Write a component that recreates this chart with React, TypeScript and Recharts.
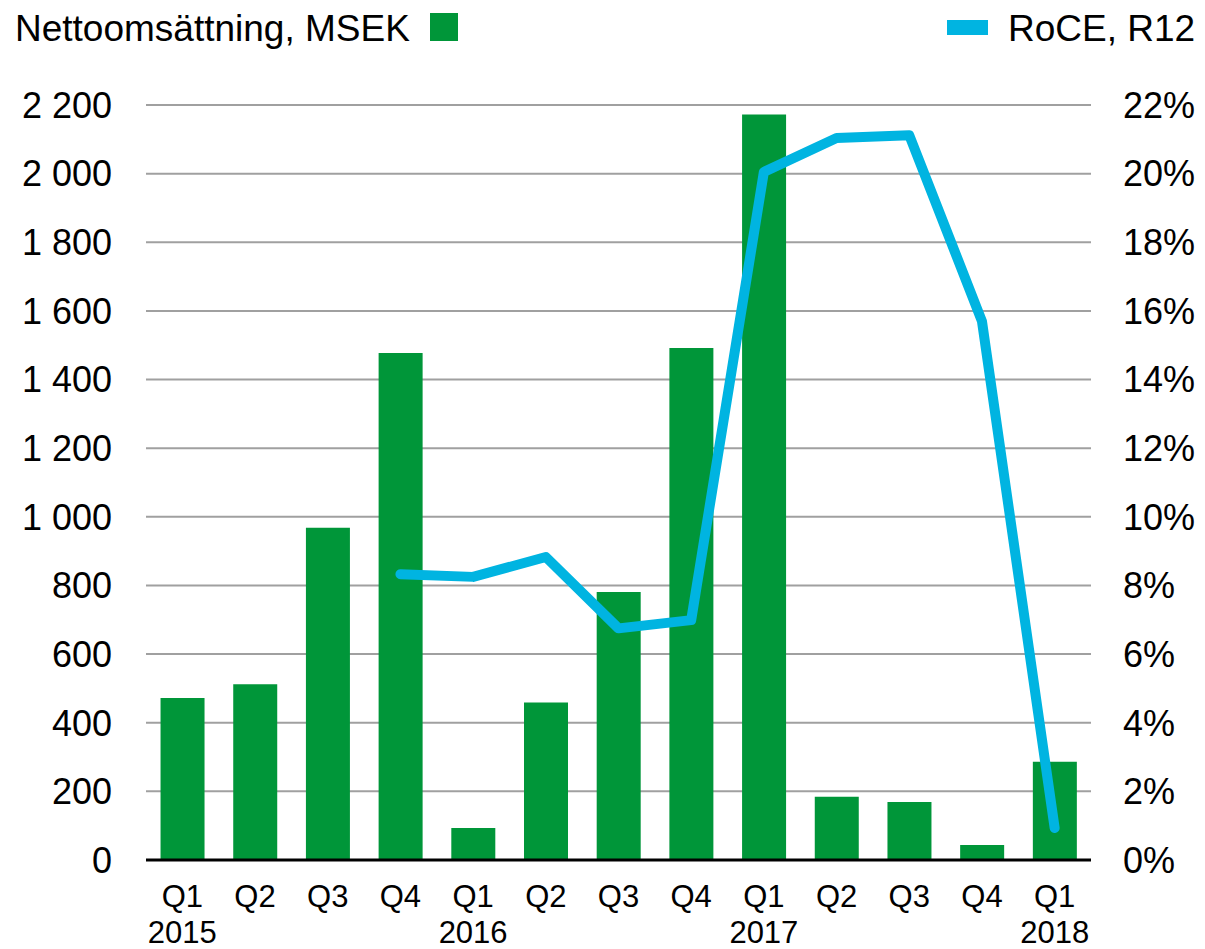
import React from 'react';
import { Bar, CartesianGrid, ComposedChart, Line, XAxis, YAxis } from 'recharts';

const quarters = ['Q1', 'Q2', 'Q3', 'Q4', 'Q1', 'Q2', 'Q3', 'Q4', 'Q1', 'Q2', 'Q3', 'Q4', 'Q1'];
const years = ['2015', '', '', '', '2016', '', '', '', '2017', '', '', '', '2018'];
const sales = [472, 512, 968, 1477, 93, 459, 781, 1492, 2172, 184, 169, 44, 286];
const roce = [null, null, null, 8.33, 8.25, 8.83, 6.75, 6.99, 20.05, 21.04, 21.12, 15.7, 0.93];
const leftTicks = [0, 200, 400, 600, 800, 1000, 1200, 1400, 1600, 1800, 2000, 2200];
const rightTicks = [0, 2, 4, 6, 8, 10, 12, 14, 16, 18, 20, 22];

const GREEN = '#009639';
const CYAN = '#00B4E1';
const FONT = '"Liberation Sans", Arial, sans-serif';

const data = quarters.map((q, i) => ({ id: i, quarter: q, year: years[i], sales: sales[i], roce: roce[i] }));

const formatMsek = (v: number) =>
   v >= 1000 ? `${Math.floor(v / 1000)} ${String(v % 1000).padStart(3, '0')}` : String(v);

const QuarterTick = (props: any) => {
   const { x, y, payload } = props;
   const row = data[payload.value];
   return (
      <text x={x} y={y} textAnchor="middle" fontFamily={FONT} fontSize={31} fill="#000">
         <tspan x={x} y={y + 45}>{row.quarter}</tspan>
         {row.year && <tspan x={x} y={y + 81}>{row.year}</tspan>}
      </text>
   );
};

const App: React.FC = () => {
   return (
      <div style={{ position: 'relative', width: 1189, height: 941 }}>
         <ComposedChart width={1189} height={941} data={data} margin={{ top: 97, right: 0, left: 0, bottom: 0 }} barCategoryGap="20%">
            <CartesianGrid yAxisId="left" vertical={false} stroke="#A0A0A0" strokeWidth={2} />
            <XAxis
               dataKey="id"
               height={89}
               tick={<QuarterTick />}
               tickLine={false}
               tickSize={0}
               axisLine={{ stroke: '#000', strokeWidth: 3 }}
               interval={0}
            />
            <YAxis
               yAxisId="left"
               width={138}
               domain={[0, 2200]}
               ticks={leftTicks}
               tickFormatter={formatMsek}
               axisLine={false}
               tickLine={false}
               tickSize={0}
               tickMargin={34}
               tick={{ fontSize: 36, fill: '#000', fontFamily: FONT }}
            />
            <YAxis
               yAxisId="right"
               orientation="right"
               width={106}
               domain={[0, 22]}
               ticks={rightTicks}
               tickFormatter={(v: number) => `${v}%`}
               axisLine={false}
               tickLine={false}
               tickSize={0}
               tickMargin={32}
               tick={{ fontSize: 36, fill: '#000', fontFamily: FONT, textAnchor: 'start' }}
            />
            <Bar yAxisId="left" dataKey="sales" fill={GREEN} isAnimationActive={false} />
            <Line
               yAxisId="right"
               dataKey="roce"
               type="linear"
               stroke={CYAN}
               strokeWidth={10}
               strokeLinecap="round"
               strokeLinejoin="round"
               dot={false}
               activeDot={false}
               isAnimationActive={false}
            />
         </ComposedChart>

         <svg width={1189} height={60} style={{ position: 'absolute', left: 0, top: 0, pointerEvents: 'none' }}>
            <text x={7} y={33} fontFamily={FONT} fontSize={37} fill="#000">Nettoomsättning, MSEK</text>
            <rect x={422} y={5} width={28} height={28} fill={GREEN} />
            <rect x={939} y={12} width={41} height={15} fill={CYAN} />
            <text x={1000} y={33} fontFamily={FONT} fontSize={37} fill="#000">RoCE, R12</text>
         </svg>
      </div>
   );
};

export default App;
